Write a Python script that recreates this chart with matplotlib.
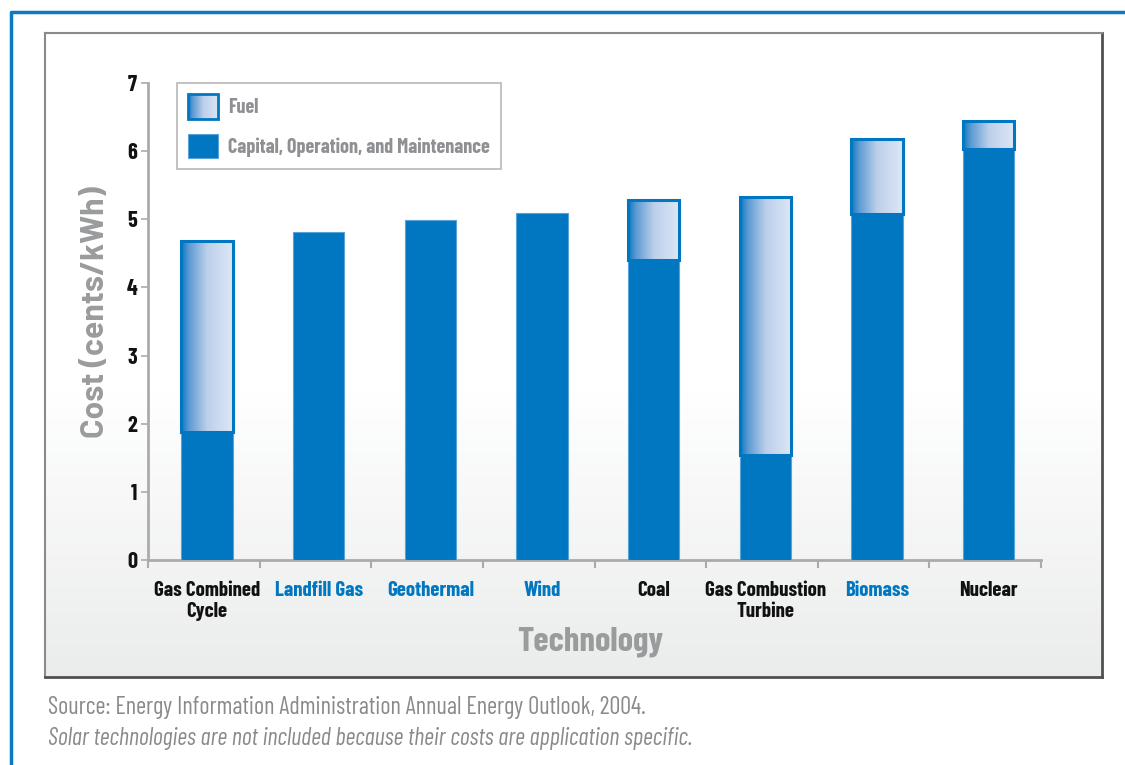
import numpy as np
import matplotlib
matplotlib.use("Agg")
import matplotlib.pyplot as plt
from matplotlib.colors import LinearSegmentedColormap
from matplotlib.lines import Line2D
from matplotlib.patches import Rectangle
from matplotlib.legend_handler import HandlerBase
from matplotlib.image import BboxImage
from matplotlib.transforms import Bbox, TransformedBbox

technologies = ["Gas Combined\nCycle", "Landfill Gas", "Geothermal", "Wind",
                "Coal", "Gas Combustion\nTurbine", "Biomass", "Nuclear"]
renewable = [False, True, True, True, False, False, True, False]
capital_om = [1.88, 4.81, 4.99, 5.09, 4.40, 1.54, 5.08, 6.03]
fuel = [2.80, 0.0, 0.0, 0.0, 0.88, 3.79, 1.10, 0.41]
yticks = [0, 1, 2, 3, 4, 5, 6, 7]

BLUE = "#0077c0"
GRAY_TXT = "#8f9093"
NARROW = ["Barlow Condensed", "Roboto Condensed", "DejaVu Sans"]
WIDE = ["Barlow", "DejaVu Sans"]

grad_cmap = LinearSegmentedColormap.from_list(
    "fuel", [(0.0, "#0a78c2"), (0.15, "#5b9ad3"), (0.5, "#bccfeb"), (1.0, "#dee8f6")])
grad = np.linspace(0, 1, 256).reshape(1, -1)

fig = plt.figure(figsize=(11.25, 7.65), dpi=100)

# panel background with vertical gradient
bg = fig.add_axes([45 / 1125, 1 - 677 / 765, (1102 - 45) / 1125, (677 - 33) / 765], zorder=-2)
vgrad = np.concatenate([np.zeros(55), np.linspace(0, 1, 45)]).reshape(-1, 1)
bg_cmap = LinearSegmentedColormap.from_list("bg", ["#ffffff", "#ebecec"])
bg.imshow(vgrad, aspect="auto", cmap=bg_cmap, extent=[0, 1, 1, 0])
bg.set_xticks([])
bg.set_yticks([])
for side in ["top", "left"]:
    bg.spines[side].set_color("#8a8a8a")
    bg.spines[side].set_linewidth(1.5)
for side in ["bottom", "right"]:
    bg.spines[side].set_color("#505050")
    bg.spines[side].set_linewidth(2)

# blue outer frame
fig.add_artist(Line2D([11 / 1125, 11 / 1125, 1.0], [0.0, 1 - 12 / 765, 1 - 12 / 765],
                      transform=fig.transFigure, color="#0a7ac4", lw=2.5))

ax = fig.add_axes([148 / 1125, 1 - 560 / 765, (1041 - 148) / 1125, (560 - 83) / 765])
ax.set_facecolor("none")

x = np.arange(len(technologies)) + 0.03
width = 0.46

cap_bars = ax.bar(x, capital_om, width, color=BLUE, edgecolor="#5aa3d8", linewidth=0.8,
                  zorder=3, label="Capital, Operation, and Maintenance")

for i in range(len(x)):
    if fuel[i] <= 0:
        continue
    patch = Rectangle((x[i] - width / 2, capital_om[i]), width, fuel[i],
                      facecolor="none", edgecolor=BLUE, linewidth=2.2, zorder=4)
    ax.add_patch(patch)
    im = ax.imshow(grad, aspect="auto", cmap=grad_cmap, zorder=3.5,
                   extent=[x[i] - width / 2, x[i] + width / 2,
                           capital_om[i], capital_om[i] + fuel[i]])
    im.set_clip_path(patch)

ax.set_xlim(-0.5, len(technologies) - 0.5)
ax.set_ylim(0, 7)

# axes styling
for side in ["top", "right"]:
    ax.spines[side].set_visible(False)
for side in ["left", "bottom"]:
    ax.spines[side].set_color("#ababab")
    ax.spines[side].set_linewidth(2)

ax.set_yticks(yticks)
ax.set_yticklabels([str(t) for t in yticks], fontsize=16, fontweight="bold",
                   family=NARROW, color="#111111")
ax.tick_params(axis="y", length=5, width=1.2, color="#ababab", pad=3)

ax.set_xticks(np.arange(-0.5, len(technologies)), labels=[""] * (len(technologies) + 1))
ax.tick_params(axis="x", which="major", length=6, width=1.5, color="#ababab")
ax.set_xticks(np.arange(len(technologies)) + 0.03, minor=True)
ax.set_xticklabels(technologies, minor=True, fontsize=15, fontweight="bold",
                   family=NARROW, linespacing=1.15)
ax.tick_params(axis="x", which="minor", length=0, pad=15)
for lbl, ren in zip(ax.get_xticklabels(minor=True), renewable):
    lbl.set_color(BLUE if ren else "#111111")

ax.set_ylabel("Cost (cents/kWh)", fontsize=23, fontweight="bold", color="#9a9b9d",
              family=WIDE)
ax.yaxis.set_label_coords(-0.059, 0.52)
ax.yaxis.label.set_va("center")
ax.set_xlabel("Technology", fontsize=25, fontweight="bold", color="#9a9b9d", family=NARROW)
ax.xaxis.set_label_coords(0.495, -0.172)
ax.xaxis.label.set_va("center")


class GradientHandler(HandlerBase):
    def create_artists(self, legend, orig_handle, xdescent, ydescent, width, height,
                       fontsize, trans):
        bb = TransformedBbox(Bbox.from_bounds(-xdescent, -ydescent, width, height), trans)
        img = BboxImage(bb, cmap=grad_cmap, interpolation="bilinear")
        img.set_data(grad)
        frame = Rectangle((-xdescent, -ydescent), width, height, facecolor="none",
                          edgecolor=BLUE, linewidth=2, transform=trans)
        return [img, frame]


fuel_handle = Rectangle((0, 0), 1, 1, label="Fuel")
leg = ax.legend([fuel_handle, cap_bars], ["Fuel", "Capital, Operation, and Maintenance"],
                handler_map={Rectangle: GradientHandler()},
                loc="upper left", bbox_to_anchor=(0.0325, 1.0), fancybox=False,
                edgecolor="#bdbdbd", framealpha=1, facecolor="white",
                prop={"family": NARROW, "weight": "bold", "size": 14.5},
                handlelength=1.5, handleheight=1.5, labelspacing=0.75,
                borderpad=0.55, handletextpad=0.5, borderaxespad=0)
leg.get_frame().set_linewidth(1.3)
leg.set_zorder(5)
for t in leg.get_texts():
    t.set_color(GRAY_TXT)

fig.text(48 / 1125, 1 - 714 / 765,
         "Source: Energy Information Administration Annual Energy Outlook, 2004.",
         fontsize=17.5, color="#8a8a8a", family=NARROW, va="baseline")
fig.text(48 / 1125, 1 - 745 / 765,
         "Solar technologies are not included because their costs are application specific.",
         fontsize=17.5, color="#8a8a8a", family=NARROW, style="italic", va="baseline")

fig.savefig("out.png", dpi=100)
